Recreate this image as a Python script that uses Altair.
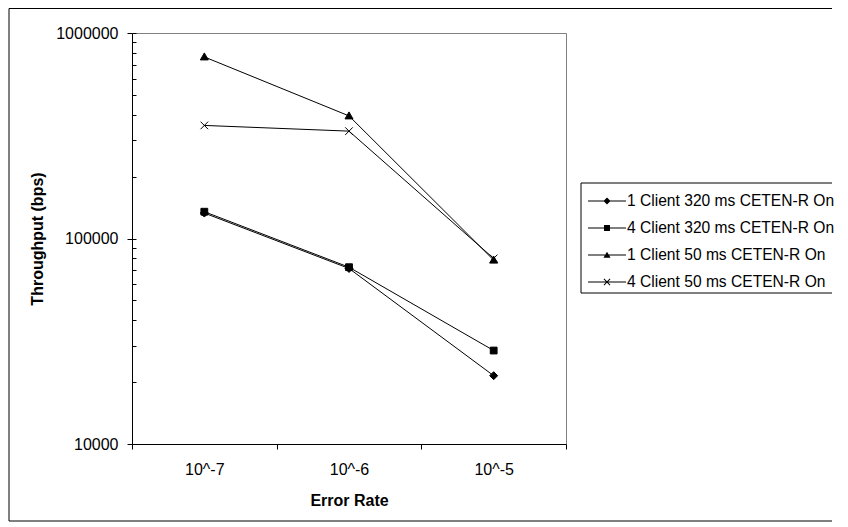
import altair as alt
import pandas as pd

# ---- data ----
categories = ["10^-7", "10^-6", "10^-5"]
series_names = [
    "1 Client 320 ms CETEN-R On",
    "4 Client 320 ms CETEN-R On",
    "1 Client 50 ms CETEN-R On",
    "4 Client 50 ms CETEN-R On",
]
c1_320 = [133000, 71500, 21500]
c4_320 = [135000, 72500, 28500]
c1_50 = [765000, 395000, 78500]
c4_50 = [355000, 333000, 80000]

y_major = [10000, 100000, 1000000]
y_minor = [10000, 20000, 30000, 40000, 50000, 60000, 70000, 80000, 90000,
           100000, 200000, 300000, 400000, 500000, 600000, 700000, 800000, 900000,
           1000000]

rows = []
for name, vals in zip(series_names, [c1_320, c4_320, c1_50, c4_50]):
    for cat, v in zip(categories, vals):
        rows.append({"rate": cat, "throughput": v, "series": name})
df = pd.DataFrame(rows)

FONT = "Liberation Sans"

plot_shapes = [
    "M-1,0L0,-1L1,0L0,1Z",
    "M-0.85,-0.85H0.85V0.85H-0.85Z",
    "M0,-1L1,0.75L-1,0.75Z",
    "M-0.95,-0.95L0.95,0.95M-0.95,0.95L0.95,-0.95",
]
# legend symbols: a 1px filled bar (the line) plus a small filled marker
LINE = "M-1.73,-0.045H1.73V0.045H-1.73Z"
legend_shapes = [
    LINE + "M-0.32,0L0,-0.32L0.32,0L0,0.32Z",
    LINE + "M-0.27,-0.27H0.27V0.27H-0.27Z",
    LINE + "M0,-0.3L0.32,0.24L-0.32,0.24Z",
    LINE + "M-0.25,-0.31L0.31,0.25L0.25,0.31L-0.31,-0.25Z"
           "M-0.31,0.25L0.25,-0.31L0.31,-0.25L-0.25,0.31Z",
]

x_axis = alt.Axis(
    title="Error Rate",
    orient="bottom",
    tickBand="extent",
    labelAngle=0,
    tickSize=5,
    labelPadding=12,
    titlePadding=15,
    domainColor="black",
    tickColor="black",
    labelFont=FONT,
    labelFontSize=16,
    labelColor="black",
    titleFont=FONT,
    titleFontSize=16,
    titleFontWeight="bold",
    titleColor="black",
    grid=False,
)
x_scale = alt.Scale(type="band", paddingInner=0, paddingOuter=0)
y_scale = alt.Scale(type="log", domain=[10000, 1000000], nice=False)

base = alt.Chart(df)

lines = base.mark_line(color="black", strokeWidth=1).encode(
    x=alt.X("rate:N", sort=categories, scale=x_scale, axis=x_axis),
    y=alt.Y(
        "throughput:Q",
        scale=y_scale,
        axis=alt.Axis(
            title="Throughput (bps)",
            values=y_major,
            format="d",
            orient="left",
            tickSize=5,
            labelPadding=9,
            titlePadding=10,
            domainColor="black",
            tickColor="black",
            labelFont=FONT,
            labelFontSize=16,
            labelColor="black",
            titleFont=FONT,
            titleFontSize=16,
            titleFontWeight="bold",
            titleColor="black",
            grid=False,
        ),
    ),
    detail="series:N",
)

points = base.mark_point(
    filled=True, fill="black", stroke="black", strokeWidth=1, size=64, opacity=1
).encode(
    x=alt.X("rate:N", sort=categories, scale=x_scale, axis=None),
    y=alt.Y(
        "throughput:Q",
        scale=y_scale,
        axis=alt.Axis(
            title=None,
            values=y_minor,
            orient="left",
            labels=False,
            domain=False,
            ticks=True,
            tickSize=4,
            offset=-4,
            tickColor="black",
            tickWidth=1,
            grid=False,
        ),
    ),
    shape=alt.Shape(
        "series:N",
        scale=alt.Scale(domain=series_names, range=plot_shapes),
        legend=None,
    ),
)

legend_layer = base.mark_point(
    filled=True, fill="black", size=64, opacity=0
).encode(
    x=alt.X("rate:N", sort=categories, scale=x_scale, axis=None),
    y=alt.Y("throughput:Q", scale=y_scale, axis=None),
    shape=alt.Shape(
        "series:N",
        scale=alt.Scale(domain=series_names, range=legend_shapes),
        legend=alt.Legend(
            title=None,
            orient="none",
            legendX=463,
            legendY=156,
            symbolSize=484,
            symbolFillColor="black",
            symbolOpacity=1,
            labelFont=FONT,
            labelFontSize=15.6,
            labelColor="black",
            labelOffset=8,
            rowPadding=6,
            padding=0,
            labelLimit=400,
        ),
    ),
)

one = alt.Chart(pd.DataFrame({"a": [0]}))
RIGHT = 700
frame_left = one.mark_rule(color="black", strokeWidth=1).encode(
    x=alt.value(-123), y=alt.value(-24.5), y2=alt.value(488))
frame_top = one.mark_rule(color="black", strokeWidth=1).encode(
    x=alt.value(-123), x2=alt.value(RIGHT), y=alt.value(-24.5))
frame_bottom = one.mark_rule(color="black", strokeWidth=1).encode(
    x=alt.value(-123), x2=alt.value(RIGHT), y=alt.value(488))
leg_left = one.mark_rule(color="black", strokeWidth=1).encode(
    x=alt.value(449), y=alt.value(150), y2=alt.value(260))
leg_top = one.mark_rule(color="black", strokeWidth=1).encode(
    x=alt.value(449), x2=alt.value(RIGHT), y=alt.value(150))
leg_bottom = one.mark_rule(color="black", strokeWidth=1).encode(
    x=alt.value(449), x2=alt.value(RIGHT), y=alt.value(260))

chart = (
    alt.layer(lines, points, legend_layer,
              frame_left, frame_top, frame_bottom, leg_left, leg_top, leg_bottom)
    .resolve_scale(shape="independent")
    .resolve_axis(x="independent", y="independent")
    .properties(width=434, height=411, padding=0, background="white")
    .configure_view(stroke="#808080", strokeWidth=1)
)

chart.save("out.html", embed_options={"renderer": "svg", "actions": False})
